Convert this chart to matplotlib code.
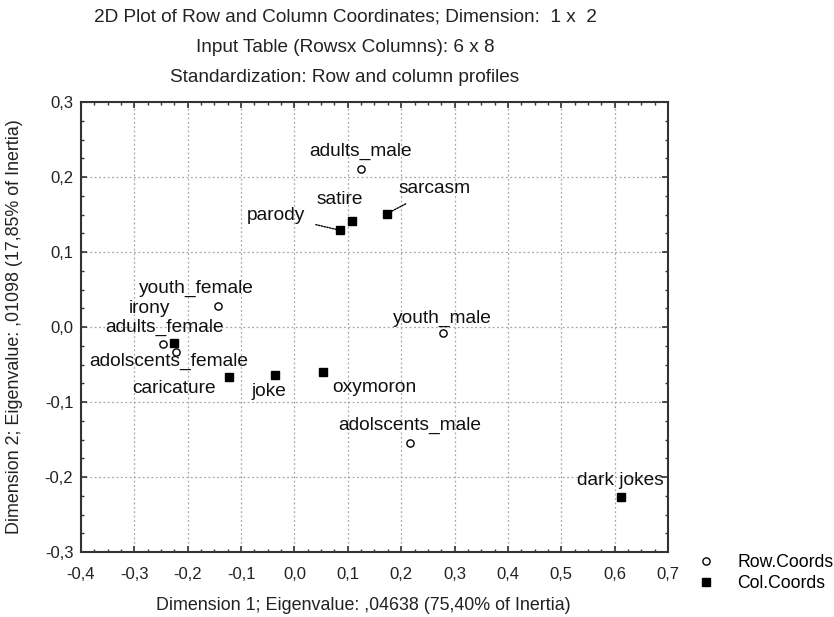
import matplotlib
matplotlib.use("Agg")
import matplotlib.pyplot as plt
from matplotlib.ticker import MultipleLocator, FuncFormatter
from matplotlib.lines import Line2D

plt.rcParams['font.family'] = ['Liberation Sans', 'DejaVu Sans']

# ---- data ----
row_labels = ['adults_male', 'youth_female', 'adults_female', 'adolscents_female',
              'youth_male', 'adolscents_male']
row_x = [0.124, -0.143, -0.246, -0.222, 0.278, 0.216]
row_y = [0.211, 0.028, -0.023, -0.033, -0.008, -0.155]

col_labels = ['irony', 'satire', 'parody', 'sarcasm', 'caricature', 'joke',
              'oxymoron', 'dark jokes']
col_x = [-0.226, 0.107, 0.085, 0.173, -0.123, -0.037, 0.053, 0.611]
col_y = [-0.021, 0.141, 0.129, 0.151, -0.067, -0.064, -0.060, -0.227]

x_ticks = [-0.4, -0.3, -0.2, -0.1, 0.0, 0.1, 0.2, 0.3, 0.4, 0.5, 0.6, 0.7]
y_ticks = [-0.3, -0.2, -0.1, 0.0, 0.1, 0.2, 0.3]

title_lines = ['2D Plot of Row and Column Coordinates; Dimension:  1 x  2',
               'Input Table (Rowsx Columns): 6 x 8',
               'Standardization: Row and column profiles']
x_label = 'Dimension 1; Eigenvalue: ,04638 (75,40% of Inertia)'
y_label = 'Dimension 2; Eigenvalue: ,01098 (17,85% of Inertia)'
legend_labels = ['Row.Coords', 'Col.Coords']

# label offsets (pixels) and leader flags -- layout only
row_off = [(0, 17), (-22, 18), (1, 17), (-7, -10), (0, 15), (0, 18)]
col_off = [(-24, 34), (-12, 22), (-64, 15), (48, 25), (-55, -11), (-6, -16),
           (52, -15), (0, 17)]
col_leader = [False, False, True, True, False, False, False, False]

# ---- figure ----
fig = plt.figure(figsize=(8.34, 6.17), dpi=100)
L, R, T, B = 81, 668, 102, 552
ax = fig.add_axes([L / 834, 1 - B / 617, (R - L) / 834, (B - T) / 617])

ax.set_xlim(x_ticks[0], x_ticks[-1])
ax.set_ylim(y_ticks[0], y_ticks[-1])
ax.set_xticks(x_ticks)
ax.set_yticks(y_ticks)
ax.xaxis.set_minor_locator(MultipleLocator(0.025))
ax.yaxis.set_minor_locator(MultipleLocator(0.025))
fmt = FuncFormatter(lambda v, p: f"{v:.1f}".replace('.', ',').replace('-0,0', '0,0'))
ax.xaxis.set_major_formatter(fmt)
ax.yaxis.set_major_formatter(fmt)
ax.tick_params(which='both', direction='in', top=True, right=True, color='#333333',
               labelsize=12, labelcolor='#222222')
ax.tick_params(which='major', length=4, width=1.2)
ax.tick_params(which='minor', length=2.5, width=1.0)
ax.tick_params(axis='x', pad=10.5)
ax.tick_params(axis='y', pad=5.5)
for s in ax.spines.values():
    s.set_color('#333333')
    s.set_linewidth(1.5)
ax.grid(True, which='major', linestyle=(0, (1.5, 2)), color='#a8a8a8', linewidth=0.9)
ax.set_axisbelow(True)

ax.plot(row_x, row_y, linestyle='none', marker='o', markersize=5.2,
        markerfacecolor='white', markeredgecolor='black', markeredgewidth=1.0, zorder=3)
ax.plot(col_x, col_y, linestyle='none', marker='s', markersize=6.3,
        markerfacecolor='black', markeredgecolor='black', zorder=3)

lab_fs = 13.8
for lab, x, y, off in zip(row_labels, row_x, row_y, row_off):
    ax.annotate(lab, (x, y), xytext=off, textcoords='offset pixels',
                ha='center', va='center', fontsize=lab_fs, color='#111111', zorder=4)
for lab, x, y, off, ld in zip(col_labels, col_x, col_y, col_off, col_leader):
    kw = {}
    if ld:
        kw['arrowprops'] = dict(arrowstyle='-', linestyle=(0, (1, 1)), color='black',
                                linewidth=1.0, shrinkA=6, shrinkB=3)
    ax.annotate(lab, (x, y), xytext=off, textcoords='offset pixels',
                ha='center', va='center', fontsize=lab_fs, color='#111111', zorder=4, **kw)

# titles and axis labels
for i, t in enumerate(title_lines):
    fig.text(345 / 834, 1 - (17 + 30 * i) / 617, t, ha='center', va='center',
             fontsize=13.7, color='#222222')
fig.text(363 / 834, 1 - 606 / 617, x_label, ha='center', va='center',
         fontsize=12.9, color='#222222')
fig.text(15 / 834, 1 - 327 / 617, y_label, ha='center', va='center', rotation=90,
         fontsize=12.9, color='#222222')

handles = [Line2D([], [], linestyle='none', marker='o', markersize=5.2,
                  markerfacecolor='white', markeredgecolor='black'),
           Line2D([], [], linestyle='none', marker='s', markersize=6.3,
                  markerfacecolor='black', markeredgecolor='black')]
fig.legend(handles, legend_labels, loc='center left',
           bbox_to_anchor=(697 / 834, 1 - 573 / 617), frameon=False,
           fontsize=12.7, handlelength=1.0, handletextpad=1.3, labelspacing=0.2,
           borderpad=0, borderaxespad=0)

fig.savefig('out.png', dpi=100)
